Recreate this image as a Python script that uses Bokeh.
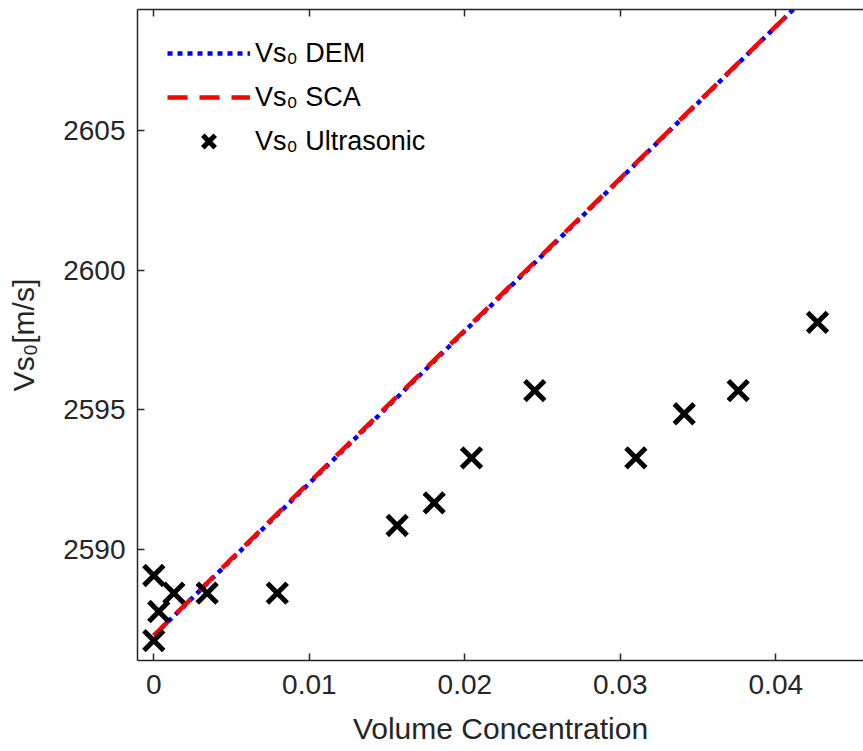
from bokeh.plotting import figure
from bokeh.models import Range1d, LinearAxis, Legend, LegendItem, FixedTicker
from bokeh.embed import file_html
from bokeh.resources import INLINE

# ---- data ----
conc_model = [0.0, 0.005, 0.010, 0.015, 0.020, 0.025, 0.030, 0.035, 0.040, 0.045]
vs0_dem = [2586.92, 2589.64, 2592.37, 2595.09, 2597.82, 2600.54, 2603.27, 2605.99, 2608.72, 2611.44]
vs0_sca = [2586.92, 2589.67, 2592.41, 2595.13, 2597.85, 2600.57, 2603.29, 2606.01, 2608.73, 2611.45]

conc_ultra = [0.0, 0.0, 0.00032, 0.00129, 0.00343, 0.00794, 0.01565, 0.01803,
              0.02043, 0.0245, 0.0310, 0.03411, 0.03758, 0.04268]
vs0_ultra = [2586.74, 2589.07, 2587.78, 2588.44, 2588.44, 2588.44, 2590.86, 2591.67,
             2593.28, 2595.69, 2593.28, 2594.86, 2595.69, 2598.13]

x_ticks = [0, 0.01, 0.02, 0.03, 0.04]
y_ticks = [2590, 2595, 2600, 2605]

FONT = "Liberation Sans"
AX = "#262626"

p = figure(width=863, height=751, output_backend="svg", toolbar_location=None,
           x_range=Range1d(-0.00105, 0.04564), y_range=Range1d(2586.026, 2609.334),
           min_border_left=137, min_border_right=0, min_border_top=9, min_border_bottom=91)
p.outline_line_color = None
p.xgrid.visible = False
p.ygrid.visible = False
p.background_fill_color = "white"
p.border_fill_color = "white"

for ax, ticks in ((p.xaxis[0], x_ticks), (p.yaxis[0], y_ticks)):
    ax.ticker = FixedTicker(ticks=ticks)
    ax.minor_tick_line_color = None
    ax.major_tick_in = 7
    ax.major_tick_out = 0
    ax.major_tick_line_color = AX
    ax.major_tick_line_width = 1.5
    ax.axis_line_color = AX
    ax.axis_line_width = 1.5
    ax.major_label_text_font = FONT
    ax.major_label_text_font_size = "28px"
    ax.major_label_text_color = AX
    ax.axis_label_text_font = FONT
    ax.axis_label_text_font_size = "30px"
    ax.axis_label_text_font_style = "normal"
    ax.axis_label_text_color = AX

p.xaxis[0].axis_label = "Volume Concentration"
p.xaxis[0].major_label_standoff = 14
p.xaxis[0].axis_label_standoff = 15
p.xaxis[0].major_label_overrides = {0: "0", 0.01: "0.01", 0.02: "0.02", 0.03: "0.03", 0.04: "0.04"}
p.yaxis[0].axis_label = "Vs\u2080[m/s]"
p.yaxis[0].major_label_standoff = 12
p.yaxis[0].axis_label_standoff = 20

top = LinearAxis(ticker=FixedTicker(ticks=x_ticks), major_label_text_color=None,
                 major_label_text_font_size="1px", major_tick_in=7, major_tick_out=0,
                 minor_tick_line_color=None, axis_line_color=AX, axis_line_width=1.5,
                 major_tick_line_color=AX, major_tick_line_width=1.5, major_label_standoff=0)
p.add_layout(top, "above")

r_dem = p.line(conc_model, vs0_dem, line_color="#0000ff", line_width=4.5,
               line_dash="5 5", line_cap="butt")
r_sca = p.line(conc_model, vs0_sca, line_color="#ff0000", line_width=4.5,
               line_dash="20 12", line_cap="butt")
r_ult = p.scatter(conc_ultra, vs0_ultra, marker="x", size=28, line_color="black",
                  line_width=5)

legend = Legend(items=[LegendItem(label="Vs\u2080 DEM", renderers=[r_dem]),
                       LegendItem(label="Vs\u2080 SCA", renderers=[r_sca]),
                       LegendItem(label="Vs\u2080 Ultrasonic", renderers=[r_ult])],
                location=(30, 497), padding=0, margin=0, spacing=0,
                glyph_width=83, glyph_height=44, label_height=44, label_standoff=5,
                label_text_font=FONT, label_text_font_size="27px", label_text_color="black",
                border_line_color=None, background_fill_alpha=0)
p.add_layout(legend, "center")

open("out.html", "w").write(file_html(p, INLINE))
